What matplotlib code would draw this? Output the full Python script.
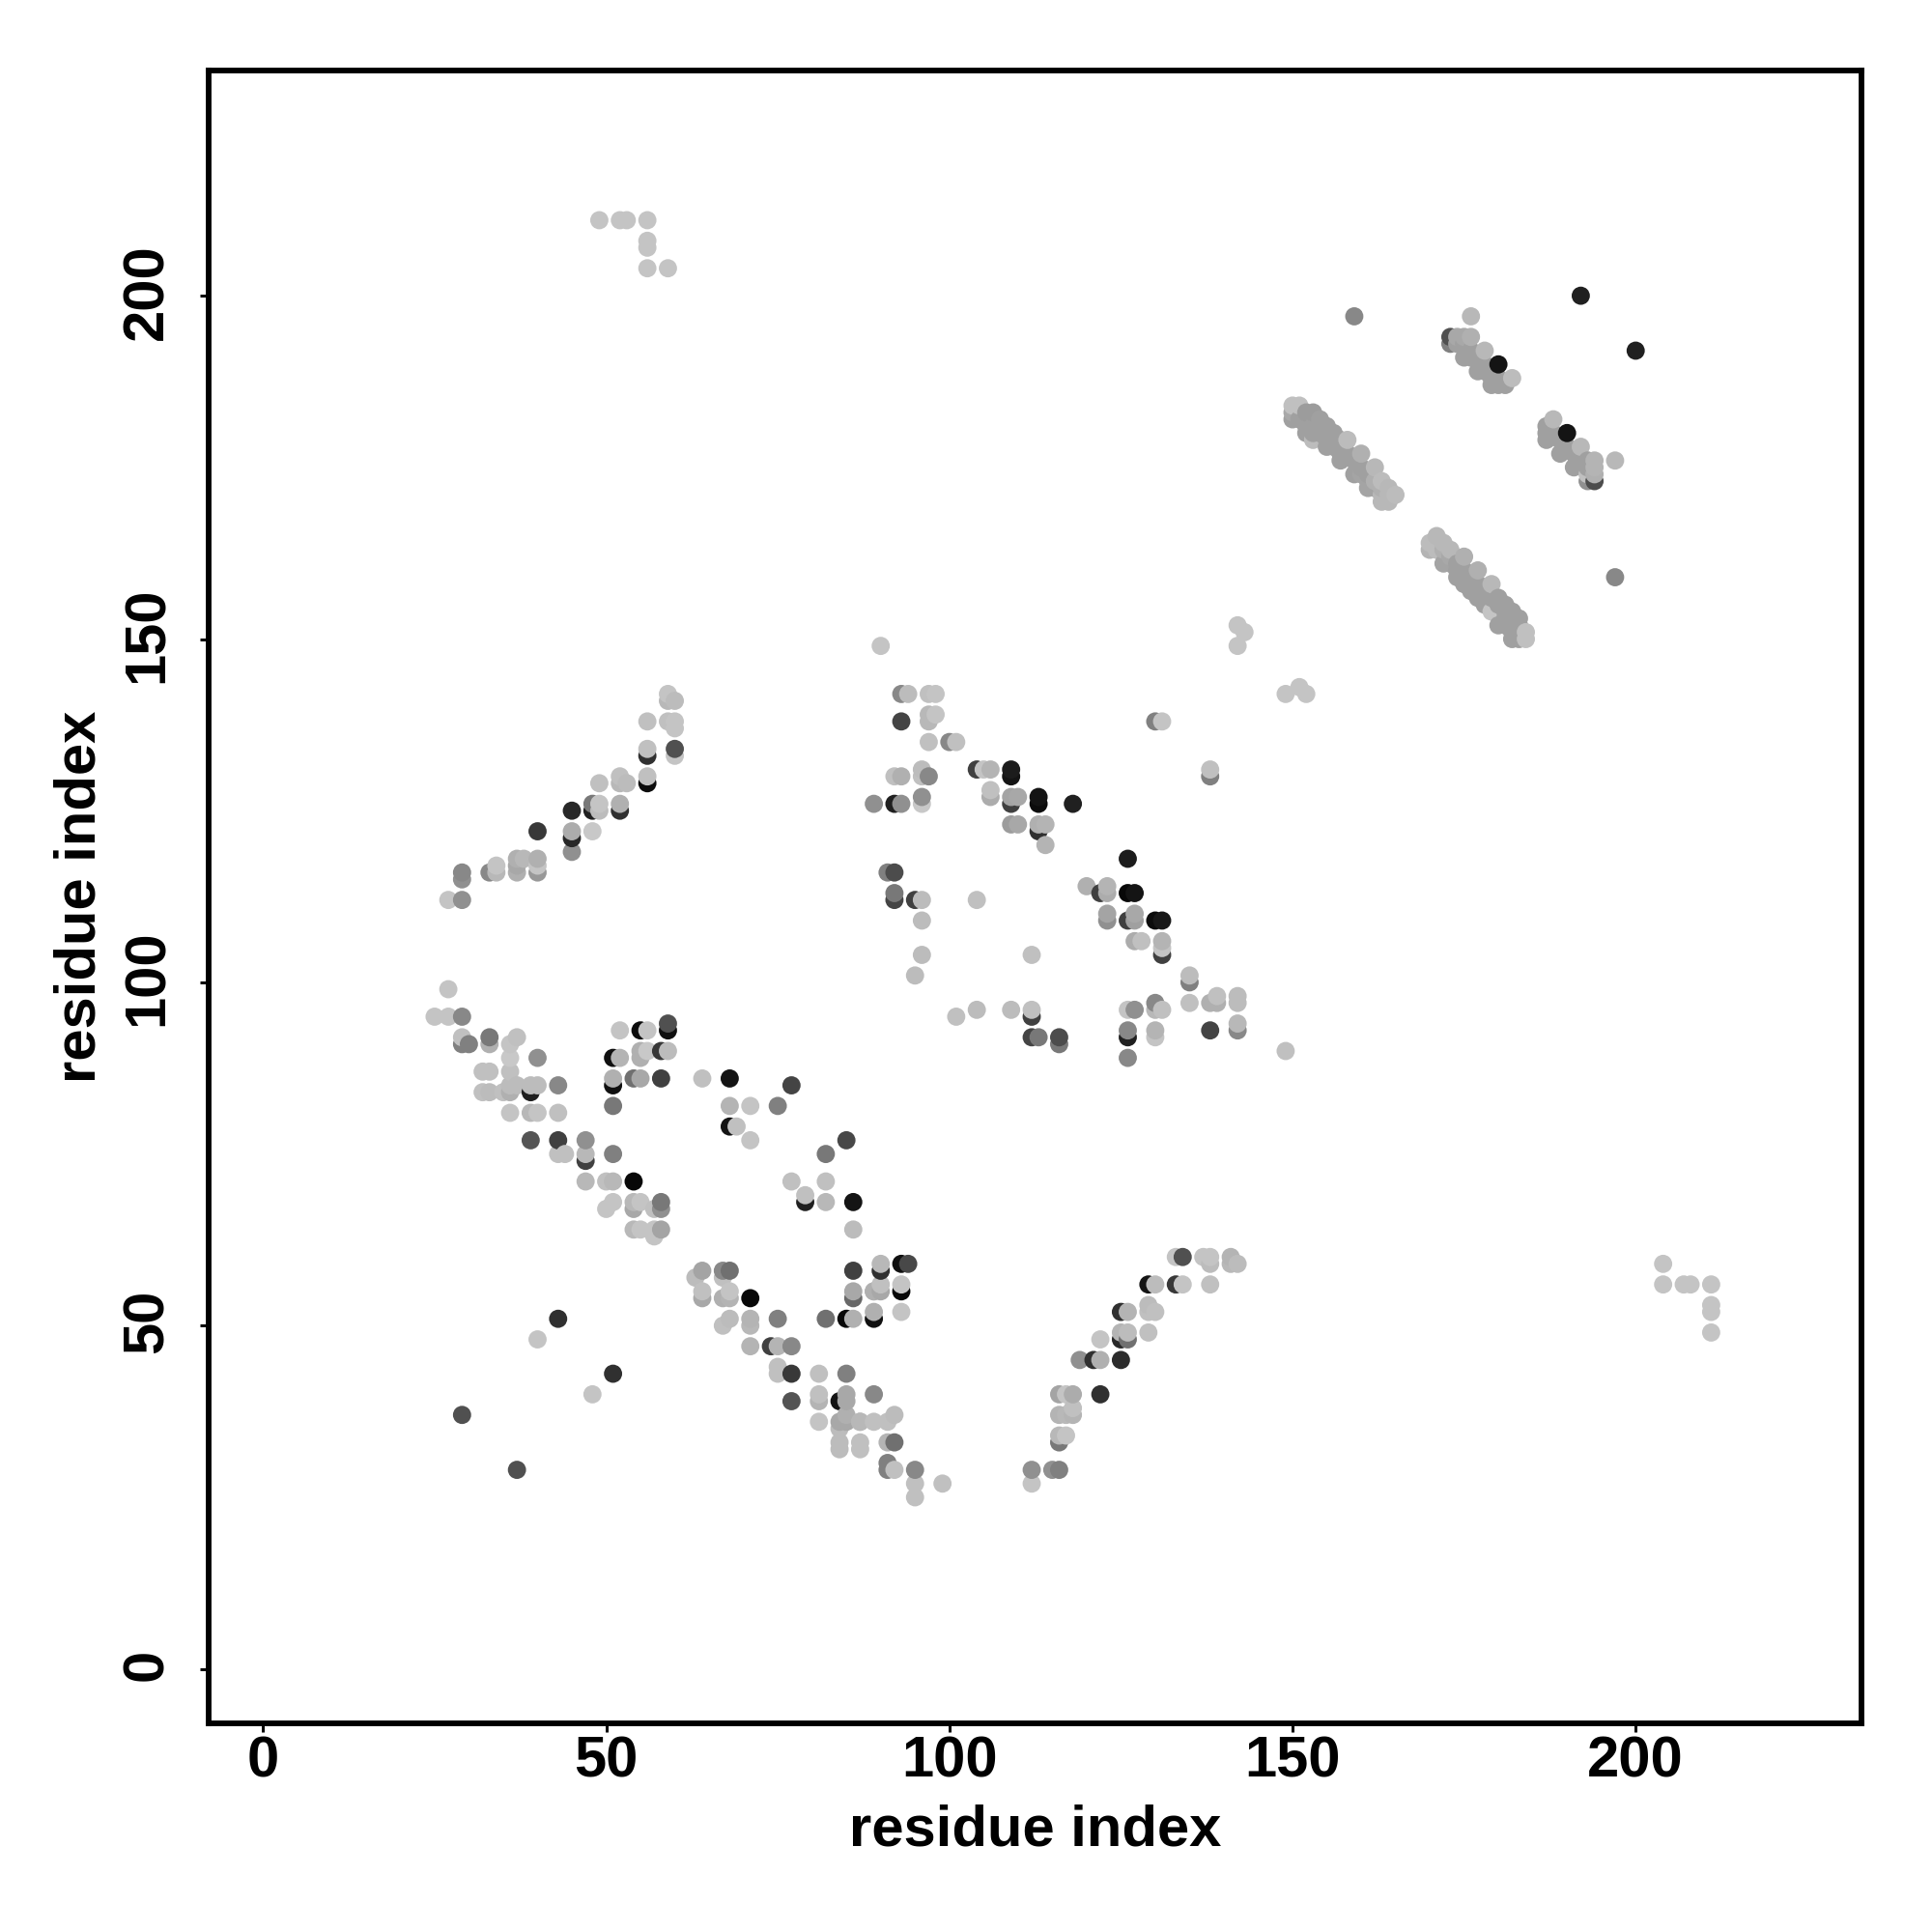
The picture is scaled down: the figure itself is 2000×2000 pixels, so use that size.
import numpy as np
import matplotlib
matplotlib.use("Agg")
import matplotlib.pyplot as plt
from matplotlib.transforms import ScaledTranslation

plt.rcParams['font.family'] = ['Liberation Sans', 'DejaVu Sans']
plt.rcParams['font.weight'] = 'bold'

#contacts, group by group. shade = grey level 0-255
res_x = [
    27, 25, 27, 29, 29, 29, 30, 33, 33, 37, 36, 36, 40, 32, 33, 36, 36, 37, 36, 35, 32, 33, 39, 40, 39, 43,
    36, 39, 40, 43, 39, 43, 47, 43, 44, 47, 47, 47, 50, 51, 54, 51, 51, 50, 54, 55, 54, 58, 58, 57, 54, 55, 57, 57, 58,
    52, 55, 56, 59, 59, 51, 52, 55, 55, 56, 58, 59, 51, 51, 54, 55, 58, 51,
    64, 68, 77, 68, 71, 75, 68, 69, 71, 85, 82, 77, 82, 79, 79, 82, 86, 86,
    64, 63, 67, 68, 67, 64, 64, 67, 68, 68, 71, 68, 67, 71, 71, 75, 82, 85, 86, 86, 86, 86,
    71, 74, 75, 77, 75, 75, 77, 81, 85, 77, 81, 81, 84, 85, 85, 81, 84, 85, 85, 87, 84, 84, 84, 87, 87, 89,
    40, 43, 51, 48, 29, 37,
    90, 90, 93, 94, 93, 93, 90, 89, 90, 89, 89, 93, 87, 89, 91, 92, 91, 92, 91, 91, 92, 95, 95, 99, 95, 89,
    112, 112, 115, 116, 116, 116, 117, 116, 117, 118, 122, 116, 117, 118, 118, 119, 121, 122, 125, 122, 125, 126, 125, 126,
    129, 125, 126, 129, 129, 130, 129, 130, 133, 134, 138, 133, 134, 137, 138, 138, 141, 141, 142,
    90, 142, 142, 143, 93, 94, 97, 98, 93, 97, 98, 97, 97, 100, 101,
    92, 93, 96, 96, 97, 89, 92, 93, 96, 96,
    104, 105, 106, 109, 109, 106, 106, 109, 110, 109, 113, 113, 118, 109, 110, 113, 114, 113, 114,
    130, 131, 138, 138, 149, 151, 152,
    126, 120, 123, 122, 123, 126, 127, 123, 123, 126, 127, 127, 130, 131, 127, 128, 131, 131, 131,
    135, 135, 135, 138, 139, 139, 142, 142, 91, 92, 92, 92, 95, 96, 96, 96, 95, 104, 112,
    101, 104, 109, 112, 112, 112, 113, 116, 116, 126, 127, 130, 130, 131, 126, 126, 126, 130, 130, 138, 142, 142, 149,
    27, 29, 29, 29, 33, 34, 34, 37, 37, 37, 38, 40, 40, 40, 40, 45, 45, 45, 45, 48, 48, 48, 49, 49, 49,
    52, 52, 52, 52, 53, 56, 56, 56, 56, 56, 59, 60, 60, 60, 60, 59, 59, 60,
    49, 52, 53, 56, 56, 56, 56, 59, 204, 204, 207, 208, 211, 211, 211, 211,
    159, 176, 192, 200, 197, 197,
    173, 173, 174, 175, 176, 174, 175, 176, 175, 176, 177, 177, 178, 178, 178, 179, 179, 179, 180, 180, 181, 180, 182,
    150, 151, 150, 150, 151, 152, 153, 152, 153, 152, 153, 154, 154, 155, 156, 157, 155, 156, 157, 155, 157, 158, 159,
    160, 159, 160, 161, 161, 162, 163, 163, 164, 164, 165, 158, 160, 162,
    170, 171, 172, 173, 170, 171, 172, 173, 174, 175, 177, 179, 174, 175, 176, 177, 176, 178, 178, 179, 180, 181, 180, 181,
    182, 182, 182, 183, 183, 183, 184, 184,
    188, 187, 187, 187, 188, 189, 190, 190, 191, 189, 191, 192, 192, 193, 193, 193, 193, 194, 194, 194, 194,
    154, 155, 156, 157, 161, 162, 163, 164, 163, 153,
    172, 173, 174, 175, 176, 177, 180, 181, 182, 183, 182, 181, 178, 177, 179,
]
res_y = [
    99, 95, 95, 95, 92, 91, 91, 92, 91, 92, 91, 89, 89, 87, 87, 87, 85, 85, 84, 84, 84, 84, 85, 85, 84, 85,
    81, 81, 81, 81, 77, 77, 77, 75, 75, 75, 74, 71, 71, 71, 71, 75, 68, 67, 68, 68, 67, 68, 67, 67, 64, 64, 64, 63, 64,
    93, 93, 93, 93, 94, 89, 89, 90, 89, 90, 90, 90, 86, 85, 86, 86, 86, 82,
    86, 86, 85, 82, 82, 82, 79, 79, 77, 77, 75, 71, 71, 69, 68, 68, 68, 64,
    58, 57, 58, 58, 57, 55, 54, 54, 55, 54, 54, 51, 50, 51, 50, 51, 51, 51, 51, 55, 54, 58,
    47, 47, 47, 47, 44, 43, 43, 43, 43, 39, 40, 39, 39, 40, 39, 36, 36, 37, 36, 36, 35, 33, 32, 33, 32, 40,
    48, 51, 43, 40, 37, 29,
    59, 58, 59, 59, 56, 55, 56, 55, 55, 52, 51, 52, 36, 36, 36, 37, 33, 33, 30, 29, 29, 29, 27, 27, 25, 55,
    29, 27, 29, 29, 33, 34, 34, 40, 40, 40, 40, 37, 37, 37, 38, 45, 45, 45, 45, 48, 48, 48, 49, 49,
    49, 52, 52, 53, 52, 52, 56, 56, 56, 56, 56, 60, 60, 60, 60, 59, 60, 59, 59,
    149, 149, 152, 151, 142, 142, 142, 142, 138, 139, 139, 138, 135, 135, 135,
    130, 130, 131, 130, 130, 126, 126, 126, 127, 126,
    131, 131, 131, 131, 130, 128, 127, 127, 127, 126, 127, 126, 126, 123, 123, 123, 123, 122, 120,
    138, 138, 131, 130, 142, 143, 142,
    118, 114, 114, 113, 113, 113, 113, 110, 109, 109, 110, 109, 109, 109, 106, 106, 106, 105, 104,
    101, 100, 97, 97, 98, 97, 98, 97, 116, 116, 113, 112, 112, 112, 109, 104, 101, 112, 104,
    95, 96, 96, 96, 95, 92, 92, 92, 91, 96, 96, 97, 96, 96, 93, 92, 89, 93, 92, 93, 94, 93, 90,
    112, 112, 116, 115, 116, 116, 117, 118, 117, 116, 118, 118, 117, 116, 122, 125, 122, 121, 119, 122, 126, 125, 126, 125, 129,
    126, 125, 130, 129, 129, 130, 129, 134, 133, 138, 138, 138, 137, 134, 133, 142, 141, 141,
    211, 211, 211, 211, 208, 207, 204, 204, 59, 56, 56, 56, 56, 53, 52, 49,
    197, 197, 200, 192, 176, 159,
    194, 193, 194, 194, 194, 193, 193, 192, 191, 191, 191, 189, 192, 190, 189, 189, 188, 187, 190, 187, 187, 188, 188,
    184, 184, 183, 182, 182, 183, 183, 181, 181, 180, 180, 182, 180, 181, 180, 179, 178, 178, 177, 179, 176, 177, 176,
    175, 174, 174, 173, 172, 173, 173, 170, 172, 170, 171, 179, 177, 175,
    163, 165, 164, 163, 164, 163, 161, 161, 160, 162, 160, 158, 159, 158, 157, 157, 159, 155, 157, 156, 156, 155, 152, 153,
    154, 152, 150, 153, 152, 150, 151, 150,
    182, 181, 180, 179, 180, 179, 178, 180, 177, 177, 175, 178, 176, 176, 175, 174, 173, 176, 175, 174, 173,
    181, 180, 179, 178, 174, 172, 172, 171, 171, 179,
    163, 162, 161, 160, 159, 158, 155, 154, 153, 151, 151, 152, 156, 156, 154,
]
shade = [
    0xc4, 0xc4, 0xc4, 0x88, 0xc0, 0x80, 0x80, 0x78, 0xb0, 0xc0, 0xc4, 0xc8, 0x90, 0xc0, 0xc0, 0xc0, 0xbc, 0xbc, 0xb0, 0xc0, 0xc0, 0xbc, 0xbc, 0xbc, 0x20, 0x88,
    0xc4, 0xb8, 0xc4, 0xc0, 0x55, 0x40, 0x90, 0xc0, 0xc0, 0xb8, 0x40, 0xb8, 0xc0, 0xb8, 0x08, 0x80, 0xc4, 0xc4, 0xb8, 0xc4, 0xa8, 0x78, 0x90, 0xc0, 0xb8, 0xc4, 0xc4, 0xc4, 0xa4,
    0xc4, 0x0c, 0xc4, 0x10, 0x50, 0x10, 0xb4, 0xb0, 0xb0, 0xc8, 0x38, 0xbc, 0xb0, 0x10, 0x70, 0xa8, 0x40, 0x78,
    0xc0, 0x14, 0x44, 0xb4, 0xc4, 0x80, 0x14, 0xc0, 0xc4, 0x48, 0x78, 0xc0, 0xc0, 0xc0, 0x20, 0xb8, 0x14, 0xbc,
    0xa4, 0xbc, 0x88, 0x70, 0xc0, 0xc0, 0xa8, 0xb0, 0xc4, 0xb4, 0x08, 0xbc, 0xc0, 0xb4, 0xb8, 0x80, 0x70, 0x08, 0xb0, 0xa8, 0x68, 0x40,
    0xb4, 0x40, 0xb4, 0x88, 0xc0, 0xc0, 0x38, 0xc0, 0x80, 0x54, 0xc0, 0xb4, 0x14, 0xa8, 0xa8, 0xc4, 0xa8, 0xb0, 0xa8, 0xb8, 0xbc, 0xbc, 0xbc, 0xc0, 0xc0, 0x88,
    0xc4, 0x30, 0x30, 0xc4, 0x50, 0x50,
    0xb8, 0x30, 0x10, 0x48, 0xc4, 0x08, 0xc0, 0xb0, 0xa8, 0xb0, 0x10, 0xc4, 0xb8, 0xc0, 0xc0, 0xbc, 0xb4, 0x70, 0x80, 0x80, 0xc0, 0x88, 0xc0, 0xc0, 0xc0, 0xb0,
    0x90, 0xc4, 0x90, 0x80, 0x78, 0xb8, 0xc4, 0xa4, 0xc4, 0xac, 0x30, 0xb4, 0xb8, 0xb4, 0xc0, 0x90, 0x30, 0xb0, 0x2c, 0xc4, 0x28, 0x70, 0xb4, 0xbc,
    0xc0, 0x30, 0xb4, 0xbc, 0xc0, 0xc0, 0x14, 0xbc, 0x38, 0xc4, 0xc0, 0xc4, 0x50, 0xc4, 0xc4, 0xbc, 0xb4, 0xb8, 0xbc,
    0xc4, 0xc4, 0xc4, 0xc4, 0x88, 0xbc, 0xc0, 0xc4, 0x44, 0xb8, 0xc4, 0xb8, 0xc0, 0x88, 0xc0,
    0xc0, 0xb0, 0xbc, 0xc0, 0x88, 0x90, 0x20, 0x90, 0x90, 0xc8,
    0x40, 0xc4, 0xb4, 0x1c, 0x14, 0xc0, 0xac, 0xa4, 0xa8, 0x40, 0x14, 0x0c, 0x20, 0x9c, 0xa8, 0xb0, 0xb4, 0x30, 0xb4,
    0x80, 0xc4, 0xc0, 0x80, 0xc4, 0xc4, 0xc4,
    0x1c, 0xb0, 0xb4, 0x40, 0xac, 0x08, 0x14, 0xa4, 0x90, 0x40, 0xa8, 0xa0, 0x0c, 0x18, 0xac, 0xc0, 0xb4, 0xc4, 0x40,
    0xbc, 0x80, 0xc0, 0xb0, 0xc0, 0xb0, 0xbc, 0xbc, 0x80, 0x4c, 0x78, 0x44, 0x40, 0xbc, 0xbc, 0xbc, 0xbc, 0xc0, 0xc0,
    0xc0, 0xbc, 0xbc, 0xc0, 0x40, 0x44, 0x78, 0x4c, 0x78, 0xc4, 0x90, 0x88, 0xb8, 0xc0, 0x88, 0x20, 0x88, 0xb4, 0xc4, 0x44, 0xb8, 0x88, 0xc0,
    0xc4, 0x90, 0x88, 0x90, 0x88, 0xb8, 0xc4, 0xb0, 0xa8, 0xb0, 0xb8, 0xb0, 0xc4, 0x98, 0x38, 0x28, 0xac, 0x28, 0x90, 0xc8, 0x78, 0x20, 0xc4, 0xbc, 0xc0,
    0xb0, 0x30, 0xc0, 0xb8, 0xbc, 0xc0, 0x0c, 0xc0, 0x30, 0xc0, 0xc0, 0xc4, 0xc4, 0x50, 0xc4, 0xc4, 0xb8, 0xbc,
    0xc4, 0xc4, 0xc4, 0xc4, 0xc4, 0xc4, 0xc4, 0xc4, 0xc4, 0xc4, 0xc4, 0xc4, 0xc4, 0xc4, 0xc4, 0xc4,
    0x88, 0xb8, 0x20, 0x20, 0xb8, 0x88,
    0x50, 0x80, 0xa8, 0xa8, 0xb0, 0xa0, 0xa0, 0xa0, 0xa0, 0xa0, 0xa0, 0xa0, 0xb8, 0xa0, 0xa0, 0xa0, 0xa0, 0xa0, 0x14, 0xa0, 0xa0, 0xa0, 0xbc,
    0xc0, 0xc0, 0xa8, 0xa0, 0xa0, 0x9c, 0x9c, 0xa0, 0xa0, 0xa0, 0xa0, 0xa0, 0xa0, 0xa0, 0xa0, 0xa0, 0xa0, 0xa0, 0xa0, 0xa0, 0xa0, 0xa0, 0xa0,
    0xa0, 0xa0, 0xa4, 0xa4, 0xa4, 0xb0, 0xbc, 0xb8, 0xb8, 0xb8, 0xbc, 0xbc, 0xb0, 0xb8,
    0xb4, 0xb8, 0xb8, 0xb8, 0xbc, 0xbc, 0xa4, 0xa4, 0xa0, 0xb0, 0xb0, 0xb8, 0xa0, 0xa0, 0xa0, 0xa0, 0xa0, 0xa0, 0xa0, 0xa0, 0xa0, 0xa0, 0xa0, 0xa0,
    0xa0, 0xa0, 0xa0, 0xa0, 0xa0, 0xa0, 0xc0, 0xc0,
    0xb8, 0xa0, 0xa0, 0xa0, 0xa0, 0xa0, 0xa0, 0x14, 0xa0, 0xa0, 0xa0, 0xb8, 0xa0, 0xa0, 0xa0, 0xc0, 0x90, 0xb4, 0xb4, 0xb0, 0x4c,
    0xa0, 0xa0, 0xa0, 0xa0, 0xa0, 0xa4, 0xb0, 0xb8, 0xb8, 0xbc,
    0xb0, 0xa8, 0xa0, 0xa0, 0xa0, 0xa0, 0xa0, 0xa0, 0xa0, 0xa0, 0xa0, 0xa0, 0xa0, 0xa0, 0xc4,
]
ticks = [0, 50, 100, 150, 200]

res_x = np.array(res_x)
res_y = np.array(res_y)
shade = np.array(shade)

#plotted sorted by x then y, later ones sit on top
order = np.lexsort((res_y, res_x))
greys = [(g / 255, g / 255, g / 255) for g in shade[order]]

fig = plt.figure(figsize=(10, 10), dpi=200)
ax = fig.add_axes([0.108, 0.108, 0.8555, 0.8555])
ax.scatter(res_x[order], res_y[order], s=46, c=greys, linewidths=0, clip_on=False)

ax.set_xlim(-7.92, 232.9)
ax.set_ylim(-7.92, 232.8)
ax.set_xticks(ticks)
ax.set_yticks(ticks)
ax.tick_params(length=3.1, width=1.08)
ax.tick_params(axis='x', labelsize=21.5, pad=1.3)
ax.tick_params(axis='y', labelsize=21.5, pad=9.7, labelrotation=90)
#nudge the rotated labels up so they sit centred on their ticks
nudge = ScaledTranslation(0, 4.5 / 200, fig.dpi_scale_trans)
for t in ax.get_yticklabels():
    t.set_va('center')
    t.set_transform(t.get_transform() + nudge)
for s in ax.spines.values():
    s.set_linewidth(2.1)

ax.set_xlabel("residue index", fontsize=21.5, fontweight='bold', labelpad=5.8)
ax.set_ylabel("residue index", fontsize=21.5, fontweight='bold', labelpad=5.4)

fig.savefig("out.png", dpi=200)
